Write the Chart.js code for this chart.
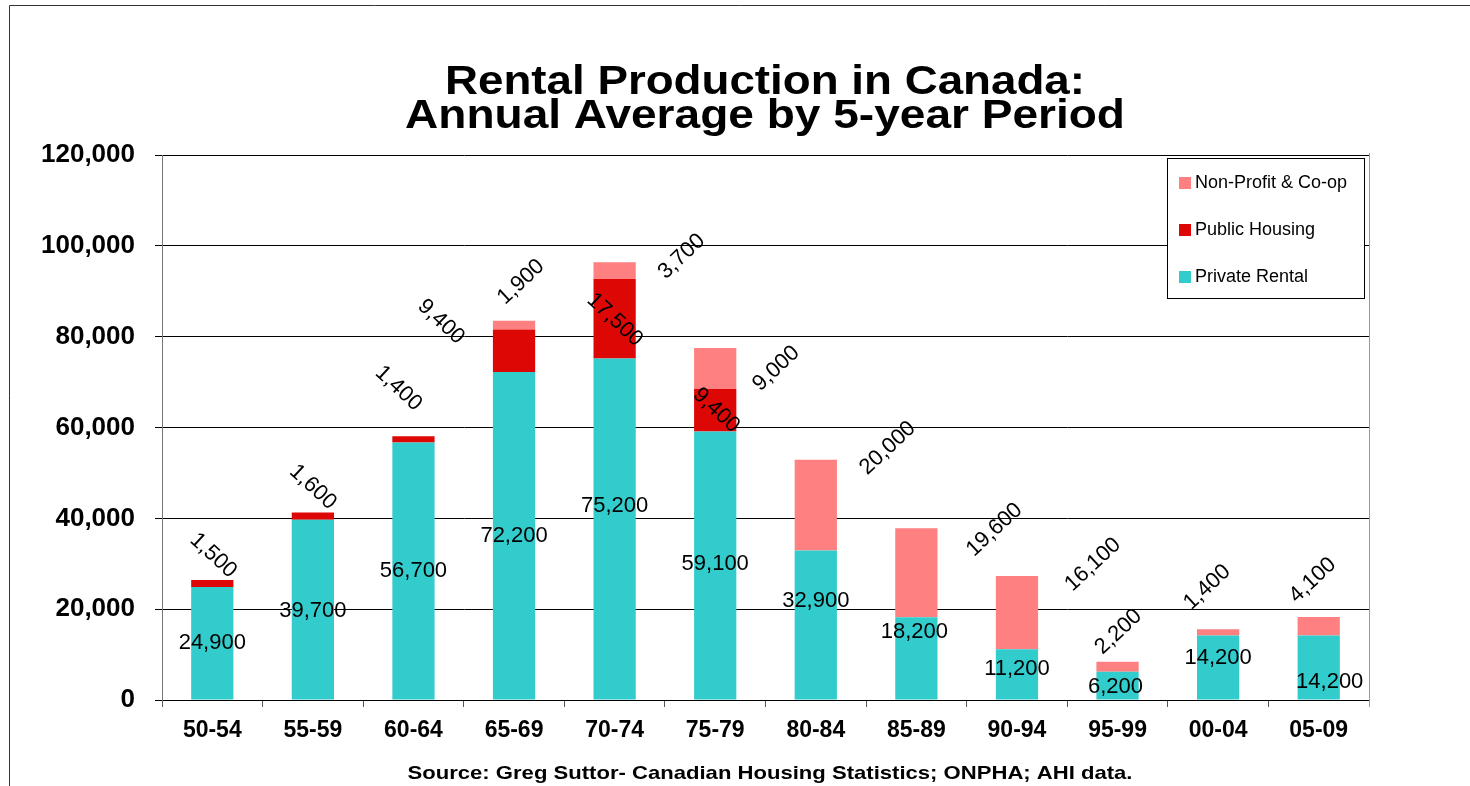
<!DOCTYPE html>
<html>
<head>
<meta charset="utf-8">
<title>Rental Production in Canada</title>
<script src="https://cdn.jsdelivr.net/npm/chart.js@4.4.0/dist/chart.umd.min.js"></script>
<style>
html, body { margin: 0; padding: 0; background: #fff; }
canvas { display: block; }
</style>
</head>
<body>
<canvas id="rentalChart" width="1470" height="786"></canvas>
<script>
// data
var periods = ["50-54", "55-59", "60-64", "65-69", "70-74", "75-79", "80-84", "85-89", "90-94", "95-99", "00-04", "05-09"];
var privateRental = [24900, 39700, 56700, 72200, 75200, 59100, 32900, 18200, 11200, 6200, 14200, 14200];
var publicHousing = [1500, 1600, 1400, 9400, 17500, 9400, 0, 0, 0, 0, 0, 0];
var nonProfit = [0, 0, 0, 1900, 3700, 9000, 20000, 19600, 16100, 2200, 1400, 4100];
var yTicks = [0, 20000, 40000, 60000, 80000, 100000, 120000];

var titleLines = ["Rental Production in Canada:", "Annual Average by 5-year Period"];
var sourceNote = "Source: Greg Suttor- Canadian Housing Statistics; ONPHA; AHI data.";

// label nudges in px (the labels were dragged around by hand in the original)
var privateShift = [[0,0],[0,1],[0,0],[0,0],[0,-23],[0,-2],[0,-24],[-2,-26],[0,-5],[-2,1],[0,-10],[11,14]];
var publicShift = [[1,-28],[0,-29],[-15,-51],[-73,-29],[0,1],[1,0]];
var nonProfitShift = [null,null,null,[7,-43],[67,-14],[61,0],[72,-57],[78,-43],[76,-48],[1,-35],[-11,-45],[-6,-46]];

var FONT = "'Liberation Sans', Arial, Helvetica, sans-serif";

function fmt(v) {
	return v.toLocaleString('en-US');
}

// the original text is a bit wider than Arial, so stretch it to the measured width
function fitText(ctx, text, cx, y, width) {
	var w = ctx.measureText(text).width;
	ctx.save();
	ctx.translate(cx, y);
	ctx.scale(width / w, 1);
	ctx.fillText(text, 0, 0);
	ctx.restore();
}

var frameAndText = {
	id: 'frameAndText',
	beforeDraw: function(chart) {
		var ctx = chart.ctx;
		ctx.save();
		ctx.fillStyle = '#fff';
		ctx.fillRect(0, 0, chart.width, chart.height);
		ctx.strokeStyle = '#333';
		ctx.lineWidth = 1;
		ctx.beginPath();
		ctx.moveTo(9.5, chart.height);
		ctx.lineTo(9.5, 5.5);
		ctx.lineTo(chart.width, 5.5);
		ctx.stroke();
		ctx.restore();
	},
	afterDraw: function(chart) {
		var ctx = chart.ctx;
		var area = chart.chartArea;
		ctx.save();
		// right edge of the plot area
		ctx.strokeStyle = '#999';
		ctx.beginPath();
		ctx.moveTo(area.right + 0.5, area.top - 2);
		ctx.lineTo(area.right + 0.5, area.bottom + 7);
		ctx.stroke();

		ctx.fillStyle = '#000';
		ctx.textAlign = 'center';
		ctx.textBaseline = 'alphabetic';
		ctx.font = 'bold 41px ' + FONT;
		fitText(ctx, titleLines[0], 765, 94, 640);
		fitText(ctx, titleLines[1], 765, 128, 720);

		ctx.font = 'bold 19px ' + FONT;
		fitText(ctx, sourceNote, 770, 779, 725);

		// legend box
		ctx.fillStyle = '#fff';
		ctx.fillRect(1167, 158, 197, 140);
		ctx.strokeStyle = '#000';
		ctx.strokeRect(1167.5, 158.5, 197, 140);
		var sets = chart.data.datasets.slice().reverse();
		ctx.font = '18px ' + FONT;
		ctx.textAlign = 'left';
		ctx.textBaseline = 'middle';
		sets.forEach(function(ds, i) {
			var cy = 183 + i * 47;
			ctx.fillStyle = ds.backgroundColor;
			ctx.fillRect(1179, cy - 6, 12, 12);
			ctx.fillStyle = '#000';
			ctx.fillText(ds.label, 1195, cy);
		});
		ctx.restore();
	}
};

var barLabels = {
	id: 'barLabels',
	afterDatasetsDraw: function(chart) {
		var ctx = chart.ctx;
		ctx.save();
		ctx.fillStyle = '#000';
		ctx.font = '22px ' + FONT;
		ctx.textAlign = 'center';
		ctx.textBaseline = 'middle';
		chart.data.datasets.forEach(function(ds, di) {
			var meta = chart.getDatasetMeta(di);
			meta.data.forEach(function(bar, i) {
				var v = ds.data[i];
				if (!v) return;
				var shift = ds.labelShift[i] || [0, 0];
				var x = bar.x + shift[0];
				var y = (bar.y + bar.base) / 2 + shift[1];
				ctx.save();
				ctx.translate(x, y);
				ctx.rotate(ds.labelAngle * Math.PI / 180);
				ctx.fillText(fmt(v), 0, 0);
				ctx.restore();
			});
		});
		ctx.restore();
	}
};

var ctx = document.getElementById('rentalChart').getContext('2d');
var rentalChart = new Chart(ctx, {
	type: 'bar',
	data: {
		labels: periods,
		datasets: [
			{
				label: 'Private Rental',
				data: privateRental,
				backgroundColor: '#33cccc',
				labelShift: privateShift,
				labelAngle: 0
			},
			{
				label: 'Public Housing',
				data: publicHousing,
				backgroundColor: '#dd0806',
				labelShift: publicShift,
				labelAngle: 43
			},
			{
				label: 'Non-Profit & Co-op',
				data: nonProfit,
				backgroundColor: '#ff8080',
				labelShift: nonProfitShift,
				labelAngle: -43
			}
		]
	},
	options: {
		responsive: false,
		animation: false,
		layout: {
			padding: { top: 155, right: 101, bottom: 0, left: 0 }
		},
		datasets: {
			bar: {
				barPercentage: 0.42,
				categoryPercentage: 1.0,
				borderWidth: 0
			}
		},
		plugins: {
			legend: { display: false },
			title: { display: false },
			tooltip: { enabled: false }
		},
		scales: {
			x: {
				stacked: true,
				grid: {
					offset: true,
					drawOnChartArea: false,
					drawTicks: true,
					tickLength: 7,
					color: '#555'
				},
				border: { display: true, color: '#000' },
				ticks: {
					color: '#000',
					padding: 10,
					font: { family: FONT, size: 23, weight: 'bold' }
				},
				afterFit: function(scale) { scale.height = 86; }
			},
			y: {
				stacked: true,
				min: 0,
				max: 120000,
				afterBuildTicks: function(scale) {
					scale.ticks = yTicks.map(function(v) { return { value: v }; });
				},
				grid: {
					color: '#000',
					lineWidth: 1,
					drawTicks: true,
					tickLength: 7
				},
				border: { display: true, color: '#777' },
				ticks: {
					color: '#000',
					padding: 20,
					font: { family: FONT, size: 26, weight: 'bold' },
					callback: function(v) { return fmt(v); }
				},
				afterFit: function(scale) { scale.width = 162; }
			}
		}
	},
	plugins: [frameAndText, barLabels]
});
</script>
</body>
</html>
